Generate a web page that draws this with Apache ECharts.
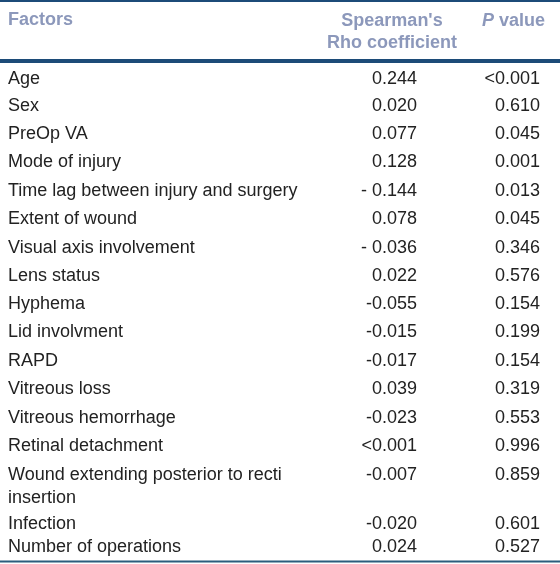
<!DOCTYPE html>
<html><head><meta charset="utf-8">
<script src="https://cdn.jsdelivr.net/npm/echarts@6/dist/echarts.min.js"></script>
<style>html,body{margin:0;padding:0;background:#fff}#c{width:560px;height:564px}</style>
</head><body><div id="c"></div>
<script>
const factors = [
  'Age', 'Sex', 'PreOp VA', 'Mode of injury', 'Time lag between injury and surgery',
  'Extent of wound', 'Visual axis involvement', 'Lens status', 'Hyphema', 'Lid involvment',
  'RAPD', 'Vitreous loss', 'Vitreous hemorrhage', 'Retinal detachment',
  'Wound extending posterior to recti\ninsertion', 'Infection', 'Number of operations'
];
const rhoValues = [
  '0.244', '0.020', '0.077', '0.128', '- 0.144', '0.078', '- 0.036', '0.022', '-0.055', '-0.015',
  '-0.017', '0.039', '-0.023', '<0.001', '-0.007', '-0.020', '0.024'
];
const pValues = [
  '<0.001', '0.610', '0.045', '0.001', '0.013', '0.045', '0.346', '0.576', '0.154', '0.199',
  '0.154', '0.319', '0.553', '0.996', '0.859', '0.601', '0.527'
];
const headerFactor = 'Factors';
const headerRho = ["Spearman's", 'Rho coefficient'];
const headerP = ['P', ' value'];

// layout (pixel positions of rows, first-line centres)
const rowY = [79, 106, 134, 162, 191, 219, 248, 276, 304, 332, 361, 389, 418, 446, 475, 524, 547];
const W = 560, H = 564;
const colFactorX = 8, colRhoX = 417, colPX = 540;
const FONT = '"Liberation Sans", Arial, sans-serif';
const FS = 18, LH = 23;
const bodyColor = '#222222';
const headColor = '#8c98bb';
const ruleColor = '#1c4b78';

const chart = echarts.init(document.getElementById('c'), null, {renderer: 'canvas'});
chart.setOption({
  animation: false,
  backgroundColor: '#fff',
  grid: {left: 0, right: 0, top: 0, bottom: 0},
  xAxis: {type: 'value', min: 0, max: W, show: false},
  yAxis: {type: 'value', min: 0, max: H, inverse: true, show: false},
  series: [{
    type: 'custom',
    silent: true,
    data: factors.map((f, i) => [i]),
    renderItem: function (params, api) {
      const i = api.value(0);
      const y = rowY[i];
      const pF = api.coord([colFactorX, y]);
      const pR = api.coord([colRhoX, y]);
      const pP = api.coord([colPX, y]);
      const mk = (p, text, align) => ({
        type: 'text',
        x: p[0], y: p[1] - LH / 2,
        style: {
          text: text, fill: bodyColor, font: FS + 'px ' + FONT,
          align: align, verticalAlign: 'top', lineHeight: LH
        }
      });
      return {
        type: 'group',
        children: [
          mk(pF, factors[i], 'left'),
          mk(pR, rhoValues[i], 'right'),
          mk(pP, pValues[i], 'right')
        ]
      };
    }
  }],
  graphic: [
    {type: 'line', shape: {x1: 0, y1: 1, x2: W, y2: 1}, style: {stroke: ruleColor, lineWidth: 2}},
    {type: 'line', shape: {x1: 0, y1: 61, x2: W, y2: 61}, style: {stroke: ruleColor, lineWidth: 4}},
    {type: 'line', shape: {x1: 0, y1: 561.5, x2: W, y2: 561.5}, style: {stroke: '#2b5d7d', lineWidth: 2}},
    {type: 'text', x: colFactorX, y: 20, style: {
      text: headerFactor, fill: headColor, font: 'bold ' + FS + 'px ' + FONT,
      align: 'left', verticalAlign: 'middle'}},
    {type: 'text', x: 392, y: 10, style: {
      text: headerRho.join('\n'), fill: headColor, font: 'bold ' + FS + 'px ' + FONT,
      align: 'center', verticalAlign: 'top', lineHeight: 22}},
    {type: 'text', x: 545, y: 21, style: {
      text: '{i|' + headerP[0] + '}{n|' + headerP[1] + '}',
      align: 'right', verticalAlign: 'middle',
      rich: {
        i: {fill: headColor, font: 'italic bold ' + FS + 'px ' + FONT},
        n: {fill: headColor, font: 'bold ' + FS + 'px ' + FONT}
      }}}
  ]
});
</script>
</body></html>
